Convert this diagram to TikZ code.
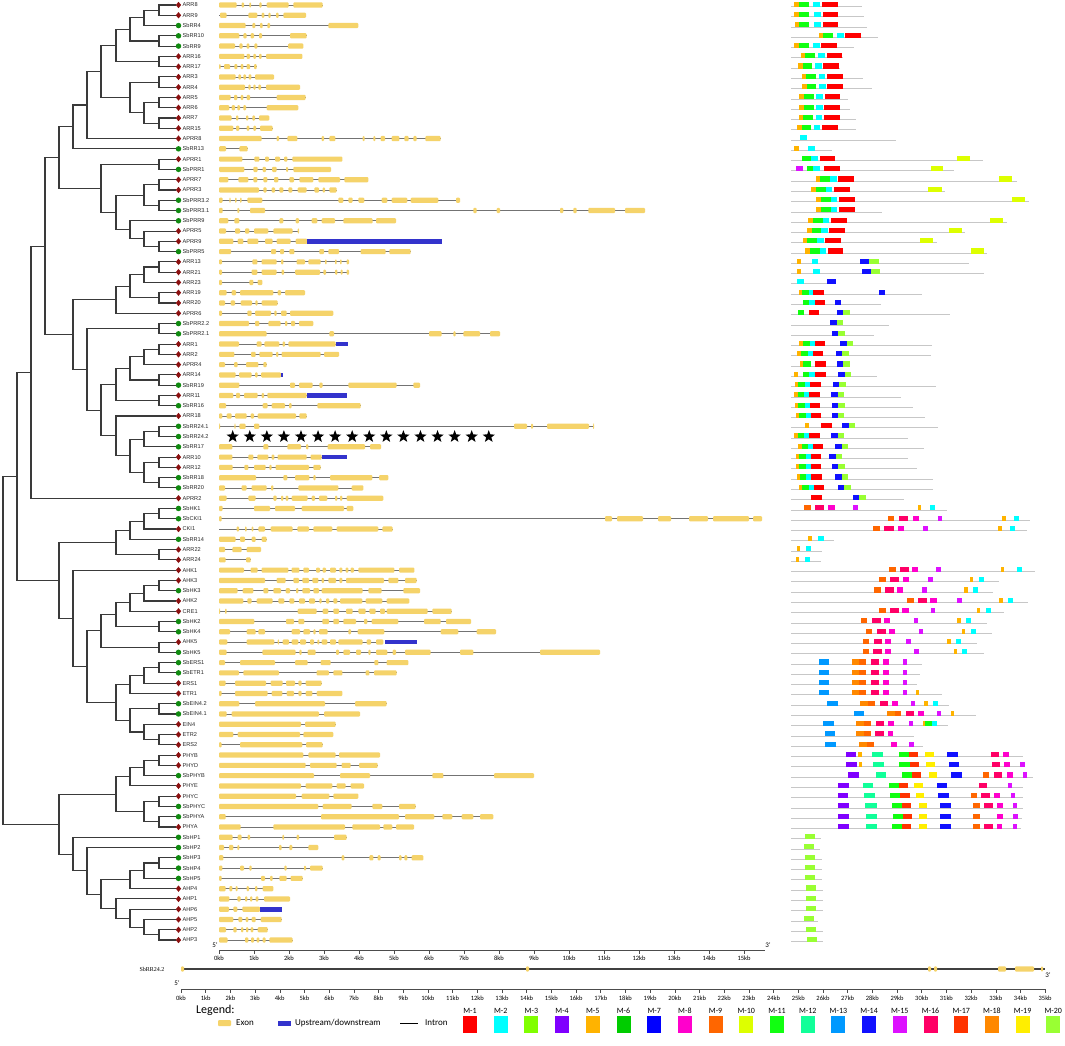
\documentclass[tikz,border=0pt]{standalone}
\usepackage{fontspec}
\setmainfont{Liberation Sans}
\newfontfamily\carl{Carlito}
\newfontfamily\tms{Liberation Serif}
\usetikzlibrary{calc,shapes.geometric}
\definecolor{exonc}{HTML}{F5D36A}
\definecolor{treec}{HTML}{3A3A3A}
\definecolor{utrc}{HTML}{3333CC}
\definecolor{arac}{HTML}{8B1010}
\definecolor{sbc}{HTML}{108A10}
\definecolor{M1}{HTML}{FF0000}
\definecolor{M2}{HTML}{00FFFF}
\definecolor{M3}{HTML}{80FF00}
\definecolor{M4}{HTML}{8000FF}
\definecolor{M5}{HTML}{FFB300}
\definecolor{M6}{HTML}{00CC00}
\definecolor{M7}{HTML}{0000FF}
\definecolor{M8}{HTML}{FF00CC}
\definecolor{M9}{HTML}{FF6600}
\definecolor{M10}{HTML}{DDFF00}
\definecolor{M11}{HTML}{11FF11}
\definecolor{M12}{HTML}{11FF99}
\definecolor{M13}{HTML}{0099FF}
\definecolor{M14}{HTML}{1111FF}
\definecolor{M15}{HTML}{DD11FF}
\definecolor{M16}{HTML}{FF0066}
\definecolor{M17}{HTML}{FF3300}
\definecolor{M18}{HTML}{FF8800}
\definecolor{M19}{HTML}{FFEE00}
\definecolor{M20}{HTML}{99FF33}
\tikzset{
  tree/.style={draw=treec,line width=1.1pt},
  intron/.style={draw=black!55,line width=0.8pt},
  exon/.style={fill=exonc,rounded corners=1pt},
  utr/.style={fill=utrc},
  mline/.style={draw=black!22,line width=0.9pt},
  lab/.style={anchor=west,inner sep=0pt,font=\fontsize{5.6}{6}\selectfont,text=black!85},
  amark/.style={diamond,fill=arac,inner sep=0pt,minimum width=5.5pt,minimum height=6.5pt},
  smark/.style={circle,fill=sbc,inner sep=0pt,minimum size=5.5pt},
  axlab/.style={inner sep=0pt,font=\carl\fontsize{6.5}{7}\selectfont},
  leglab/.style={anchor=west,inner sep=0pt,font=\carl\fontsize{9}{10}\selectfont},
  mlab/.style={inner sep=0pt,font=\carl\fontsize{8}{9}\selectfont},
  starmk/.style={star,star points=5,star point ratio=2.4,fill=black,inner sep=0pt,minimum size=13pt}
}
\newcommand\jn[4]{%
  \path let \p1=(#3), \p2=(#4) in coordinate (#1) at (#2pt,{0.5*(\y1+\y2)});
  \draw[tree] (#3) -| (#1) |- (#4);
}
\newcommand\gn[3]{%
  \pgfmathsetmacro\yy{-5-(#1-1)*10.275}
  \draw[intron] (219,\yy) -- ({#2/3},\yy);
  \foreach \xa/\xb in {#3}{\fill[exon] ({\xa/3},\yy-2.6) rectangle ({\xb/3},\yy+2.6);}
}
\newcommand\gb[3]{%
  \pgfmathsetmacro\yy{-5-(#1-1)*10.275}
  \fill[utr] ({#2/3},\yy-2.3) rectangle ({#3/3},\yy+2.3);
}
\newcommand\mt[3]{%
  \pgfmathsetmacro\yy{-5-(#1-1)*10.275}
  \draw[mline] (791,\yy-1.5) -- ({780+#2/3},\yy-1.5);
  \foreach \xa/\xb/\xc in {#3}{\fill[\xc] ({780+\xa/3},\yy-1.9) rectangle ({780+\xb/3},\yy+3.2);}
}
\begin{document}
\begin{tikzpicture}[x=1pt,y=1pt]
\useasboundingbox (0,0) rectangle (1065,-1046);
\fill[white] (0,0) rectangle (1065,-1046);
% ---------- leaves ----------
\foreach \i/\n/\kind in {1/ARR8/a,2/ARR9/a,3/SbRR4/s,4/SbRR10/s,5/SbRR9/s,6/ARR16/a,7/ARR17/a,8/ARR3/a,9/ARR4/a,10/ARR5/a,11/ARR6/a,12/ARR7/a,13/ARR15/a,14/APRR8/a,15/SbRR13/s,16/APRR1/a,17/SbPRR1/s,18/APRR7/a,19/APRR3/a,20/SbPRR3.2/s,21/SbPRR3.1/s,22/SbPRR9/s,23/APRR5/a,24/APRR9/a,25/SbPRR5/s,26/ARR13/a,27/ARR21/a,28/ARR23/a,29/ARR19/a,30/ARR20/a,31/APRR6/a,32/SbPRR2.2/s,33/SbPRR2.1/s,34/ARR1/a,35/ARR2/a,36/APRR4/a,37/ARR14/a,38/SbRR19/s,39/ARR11/a,40/SbRR16/s,41/ARR18/a,42/SbRR24.1/s,43/SbRR24.2/s,44/SbRR17/s,45/ARR10/a,46/ARR12/a,47/SbRR18/s,48/SbRR20/s,49/APRR2/a,50/SbHK1/s,51/SbCKI1/s,52/CKI1/a,53/SbRR14/s,54/ARR22/a,55/ARR24/a,56/AHK1/a,57/AHK3/a,58/SbHK3/s,59/AHK2/a,60/CRE1/a,61/SbHK2/s,62/SbHK4/s,63/AHK5/a,64/SbHK5/s,65/SbERS1/s,66/SbETR1/s,67/ERS1/a,68/ETR1/a,69/SbEIN4.2/s,70/SbEIN4.1/s,71/EIN4/a,72/ETR2/a,73/ERS2/a,74/PHYB/a,75/PHYD/a,76/SbPHYB/s,77/PHYE/a,78/PHYC/a,79/SbPHYC/s,80/SbPHYA/s,81/PHYA/a,82/SbHP1/s,83/SbHP2/s,84/SbHP3/s,85/SbHP4/s,86/SbHP5/s,87/AHP4/a,88/AHP1/a,89/AHP6/a,90/AHP5/a,91/AHP2/a,92/AHP3/a}{
  \pgfmathsetmacro\yy{-5-(\i-1)*10.275}
  \coordinate (L\i) at (176,\yy);
  \node[\kind mark] (mk\i) at (178.5,\yy) {};
  \node[lab] (lb\i) at (182.5,\yy) {\n};
}
% ---------- tree ----------
\jn{n1}{159}{L1}{L2}\jn{n2}{144}{n1}{L3}\jn{n3}{159}{L4}{L5}\jn{n4}{130}{n2}{n3}
\jn{n5}{159}{L6}{L7}\jn{n6}{116}{n4}{n5}
\jn{n7}{159}{L8}{L9}\jn{n8}{159}{L10}{L11}\jn{n9}{159}{L12}{L13}\jn{n10}{144}{n8}{n9}
\jn{n11}{130}{n7}{n10}\jn{n12}{101}{n6}{n11}\jn{n13}{87}{n12}{L14}\jn{n14}{73}{n13}{L15}
\jn{p1}{159}{L16}{L17}\jn{p2}{159}{L18}{L19}\jn{p3}{159}{L20}{L21}\jn{p4}{144}{p2}{p3}
\jn{p5}{159}{L24}{L25}\jn{p6}{144}{L23}{p5}\jn{p7}{130}{L22}{p6}\jn{p8}{116}{p4}{p7}
\jn{p9}{101}{p1}{p8}\jn{n15}{59}{n14}{p9}
\jn{q1}{159}{L26}{L27}\jn{q2}{144}{q1}{L28}\jn{q3}{159}{L29}{L30}\jn{q4}{130}{q2}{q3}\jn{q5}{116}{q4}{L31}
\jn{r1}{159}{L32}{L33}
\jn{r2}{159}{L34}{L35}\jn{r3}{144}{r2}{L36}\jn{r4}{159}{L37}{L38}\jn{r5}{130}{r3}{r4}
\jn{r6}{159}{L39}{L40}\jn{r7}{116}{r5}{r6}
\jn{r8}{159}{L42}{L43}\jn{r9}{144}{r8}{L44}\jn{r10}{159}{L45}{L46}\jn{r11}{159}{L47}{L48}
\jn{r12}{144}{r10}{r11}\jn{r13}{130}{r9}{r12}\jn{r14}{116}{L41}{r13}\jn{r15}{101}{r7}{r14}
\jn{r16}{87}{r1}{r15}\jn{r17}{73}{q5}{r16}\jn{r18}{45}{n15}{r17}\jn{r19}{31}{r18}{L49}
\jn{s1}{159}{L50}{L51}\jn{s2}{144}{s1}{L52}\jn{s3}{130}{s2}{L53}\jn{s4}{159}{L54}{L55}\jn{s5}{116}{s3}{s4}
\jn{h1}{159}{L57}{L58}\jn{h2}{144}{h1}{L59}\jn{h3}{130}{h2}{L60}\jn{h4}{159}{L61}{L62}\jn{h5}{116}{h3}{h4}
\jn{h6}{159}{L63}{L64}\jn{h7}{101}{h5}{h6}
\jn{e1}{159}{L65}{L66}\jn{e2}{144}{e1}{L67}\jn{e3}{130}{e2}{L68}\jn{e4}{159}{L69}{L70}
\jn{e5}{159}{L72}{L73}\jn{e6}{144}{L71}{e5}\jn{e7}{130}{e4}{e6}\jn{e8}{116}{e3}{e7}
\jn{h8}{87}{h7}{e8}\jn{h9}{73}{L56}{h8}\jn{s6}{59}{s5}{h9}\jn{t1}{17}{r19}{s6}
\jn{f1}{159}{L74}{L75}\jn{f2}{144}{f1}{L76}\jn{f3}{130}{f2}{L77}\jn{f4}{159}{L78}{L79}
\jn{f5}{159}{L80}{L81}\jn{f6}{144}{f4}{f5}\jn{f7}{116}{f3}{f6}
\jn{a1}{159}{L84}{L85}\jn{a2}{144}{a1}{L86}\jn{a3}{130}{a2}{L87}
\jn{a4}{159}{L91}{L92}\jn{a5}{144}{L90}{a4}\jn{a6}{130}{L89}{a5}\jn{a7}{116}{L88}{a6}
\jn{a8}{101}{a3}{a7}\jn{a9}{87}{L83}{a8}\jn{a10}{73}{L82}{a9}\jn{f8}{59}{f7}{a10}
\jn{root}{3}{t1}{f8}
% ---------- gene structures ----------
\gn{1}{968}{657/710,725/732,748/753,778/785,800/866,880/968}
\gn{2}{918}{660/680,745/772,785/793,805/812,828/836,850/918}
\gn{3}{1075}{657/737,757/766,780/788,802/810,985/1075}
\gn{4}{920}{657/718,730/740,752/762,777/786,870/920}
\gn{5}{910}{657/705,718/728,740/748,763/772,864/910}
\gn{6}{907}{657/733,740/750,760/768,777/785,798/907}
\gn{7}{770}{657/662,672/690,703/712,722/730,740/750,762/770}
\gn{8}{822}{657/707,715/723,730/738,746/754,765/822}
\gn{9}{900}{657/735,745/752,760/767,775/783,798/900}
\gn{10}{917}{657/692,702/712,722/730,740/750,830/917}
\gn{11}{895}{657/688,695/705,712/720,730/738,800/895}
\gn{12}{808}{657/695,708/715,738/745,757/765,777/808}
\gn{13}{818}{657/700,708/718,740/748,760/768,780/818}
\gn{14}{1322}{657/785,830/837,862/892,965/972,988/1006,1088/1094,1120/1126,1142/1155,1175/1198,1213/1226,1240/1250,1276/1322}
\gn{15}{743}{657/678,718/743}
\gn{16}{1027}{657/727,763/778,795/807,825/840,852/862,877/1027}
\gn{17}{993}{657/733,760/773,788/798,816/830,858/864,880/993}
\gn{18}{1105}{657/685,715/745,760/772,790/802,822/835,868/882,898/940,955/1020,1033/1105}
\gn{19}{1010}{657/777,790/800,815/825,838/850,865/877,893/920,943/957,968/975,988/1010}
\gn{20}{1380}{657/668,688/692,705/710,720/725,742/787,1015/1030,1045/1058,1075/1093,1145/1162,1175/1222,1232/1315,1368/1380}
\gn{21}{1935}{657/668,712/718,750/795,1420/1430,1490/1500,1680/1690,1720/1730,1765/1845,1875/1935}
\gn{22}{1188}{657/685,703/718,838/850,887/897,935/952,965/1005,1030/1118,1128/1188}
\gn{23}{897}{657/678,705/720,735/748,762/805,820/878,893/897}
\gn{24}{922}{657/700,713/730,742/775,795/818,830/872,887/922}\gb{24}{922}{1325}
\gn{25}{1232}{657/693,813/828,840/852,868/883,958/972,985/1017,1082/1157,1168/1232}
\gn{26}{1047}{657/666,757/772,785/830,843/850,890/915,925/962,975/980,1005/1010,1020/1025,1040/1047}
\gn{27}{1047}{657/666,755/772,785/830,845/852,885/960,970/978,1005/1012,1022/1028,1040/1047}
\gn{28}{787}{657/666,748/760,773/787}
\gn{29}{915}{657/680,695/708,720/820,833/843,855/915}
\gn{30}{833}{657/675,692/705,722/756,766/773,785/833}
\gn{31}{1000}{657/666,742/755,765/813,823/830,843/860,870/1000}
\gn{32}{940}{657/747,765/778,805/842,855/862,873/885,897/940}
\gn{33}{1500}{657/800,988/1002,1287/1325,1360/1367,1390/1440,1470/1500}
\gn{34}{1007}{657/717,770/785,793/838,848/855,865/1007}\gb{34}{1007}{1043}
\gn{35}{1017}{657/703,753/767,778/818,828/835,845/962,972/1017}
\gn{36}{800}{657/675,702/713,738/775,790/800}
\gn{37}{843}{657/707,717/755,765/773,783/843}\gb{37}{843}{848}
\gn{38}{1260}{657/718,870/885,897/938,958/968,1045/1190,1240/1260}
\gn{39}{920}{657/700,708/720,732/773,785/792,802/920}\gb{39}{920}{1042}
\gn{40}{1082}{657/678,788/803,815/855,867/875,952/1082}
\gn{41}{920}{657/667,680/695,705/740,752/762,773/888,898/920}
\gn{42}{1782}{657/660,703/707,718/737,762/778,1542/1581,1593/1599,1641/1767,1779/1782}
\gn{44}{1143}{657/697,790/805,862/903,918/925,983/1095,1110/1143}
\gn{45}{965}{657/697,745/760,772/805,815/823,833/920,932/965}\gb{45}{965}{1042}
\gn{46}{962}{657/698,733/745,762/797,808/815,827/927,940/962}
\gn{47}{1165}{657/768,850/862,885/928,940/947,990/1117,1137/1165}
\gn{48}{1090}{657/675,725/740,755/800,813/820,895/1015,1055/1090}
\gn{49}{1150}{657/680,745/767,820/830,843/850,857/865,875/923,935/945,957/982,1005/1012,1020/1027,1040/1150}
\gn{50}{1060}{657/668,762/810,825/885,905/1032,1040/1060}
\gn{51}{2286}{657/665,1815/1836,1851/1929,1974/2013,2067/2124,2139/2247,2259/2286}
\gn{52}{1178}{710/717,735/740,755/760,775/795,812/878,892/927,940/997,1010/1135,1147/1178}
\gn{53}{800}{657/707,720/735,755/767,785/800}
\gn{54}{783}{657/675,697/725,740/783}
\gn{55}{752}{657/677,738/752}
\gn{56}{1243}{657/732,752/773,785/865,875/898,910/927,948/960,968/978,990/1008,1018/1027,1037/1045,1052/1062,1075/1183,1197/1243}
\gn{57}{1250}{657/795,830/857,880/897,907/927,937/955,965/972,985/1008,1018/1027,1038/1152,1165/1195,1215/1250}
\gn{58}{1260}{657/713,728/760,790/805,820/843,857/870,888/895,907/930,940/957,965/1088,1105/1145,1210/1260}
\gn{59}{1228}{657/730,742/755,770/818,835/853,868/883,897/915,927/945,958/965,978/988,1000/1012,1020/1087,1097/1147,1160/1228}
\gn{60}{1355}{657/660,675/680,893/950,968/985,1000/1017,1038/1058,1075/1097,1108/1127,1140/1155,1160/1283,1297/1355}
\gn{61}{1413}{657/763,858/882,895/913,967/987,1000/1017,1030/1068,1092/1102,1115/1195,1272/1322,1338/1413}
\gn{62}{1488}{657/690,740/767,775/795,875/900,910/930,940/947,957/983,1045/1053,1073/1153,1322/1375,1430/1488}
\gn{63}{1150}{657/682,740/823,833/837,848/867,875/895,900/918,930/942,952/958,965/982,990/1008,1015/1088,1100/1113,1128/1150}\gb{63}{1155}{1252}
\gn{64}{1800}{657/680,787/887,898/905,923/947,1008/1017,1030/1050,1068/1083,1105/1112,1128/1162,1178/1188,1215/1292,1380/1420,1620/1800}
\gn{65}{1225}{657/675,720/825,885/923,962/992,1123/1135,1160/1225}
\gn{66}{1190}{657/717,730/837,950/987,1000/1027,1097/1108,1122/1190}
\gn{67}{965}{657/677,705/798,812/848,858/885,895/905,917/965}
\gn{68}{1027}{657/665,705/803,815/847,860/882,895/905,917/937,950/1027}
\gn{69}{1160}{657/718,765/975,1065/1160}
\gn{70}{1080}{657/680,695/957,972/1080}
\gn{71}{1007}{657/903,915/1007}
\gn{72}{1000}{657/700,713/900,910/1000}
\gn{73}{968}{657/665,720/907,918/968}
\gn{74}{1140}{657/910,925/1007,1017/1140}
\gn{75}{1133}{657/917,930/1010,1025/1052,1077/1133}
\gn{76}{1602}{657/942,1020/1110,1297/1330,1482/1602}
\gn{77}{1092}{657/903,917/997,1010/1037,1052/1092}
\gn{78}{1075}{657/888,905/988,1000/1075}
\gn{79}{1247}{657/955,968/1055,1117/1147,1197/1247}
\gn{80}{1480}{657/677,963/1197,1215/1303,1327/1357,1385/1420,1440/1480}
\gn{81}{1242}{657/722,820/1035,1057/1140,1150/1177,1188/1242}
\gn{82}{1040}{657/698,713/725,743/750,847/852,890/897,1002/1040}
\gn{83}{955}{657/672,687/700,712/718,837/845,868/877,925/955}
\gn{84}{1270}{657/670,1025/1033,1108/1120,1133/1142,1197/1205,1213/1222,1235/1270}
\gn{85}{968}{657/667,720/732,748/755,853/860,912/918,930/968}
\gn{86}{908}{657/665,783/795,810/818,838/860,872/908}
\gn{87}{820}{657/677,688/697,707/713,740/747,765/772,788/820}
\gn{88}{870}{657/688,712/722,735/742,750/757,767/775,792/870}
\gn{89}{780}{657/687,700/712,727/780}\gb{89}{780}{845}
\gn{90}{845}{657/700,715/727,737/745,755/767,782/845}
\gn{91}{803}{657/678,700/710,723/730,738/745,752/760,773/803}
\gn{92}{878}{657/683,735/745,753/762,770/778,788/797,808/878}
% stars for SbRR24.2
\foreach \k in {0,...,15}{\node[starmk] (st\k) at ({232.7+\k*17.07},-436.6) {};}
% ---------- motifs ----------
\mt{1}{245}{42/57/M5,57/86/M11,100/121/M2,126/173/M1}
\mt{2}{252}{42/57/M5,57/86/M11,102/122/M2,128/175/M1}
\mt{3}{262}{45/57/M5,57/86/M11,103/122/M2,128/175/M1}
\mt{4}{295}{117/130/M5,130/159/M11,171/191/M2,196/243/M1}
\mt{5}{223}{42/57/M5,57/86/M11,99/120/M2,124/171/M1}
\mt{6}{190}{62/75/M5,75/104/M11,115/135/M2,140/187/M1}
\mt{7}{180}{53/68/M5,68/96/M11,104/125/M2,130/178/M1}
\mt{8}{250}{65/78/M5,78/107/M11,116/136/M2,141/188/M1}
\mt{9}{275}{67/80/M5,80/109/M11,117/137/M2,142/189/M1}
\mt{10}{205}{58/72/M5,72/101/M11,108/128/M2,134/181/M1}
\mt{11}{210}{58/72/M5,72/101/M11,108/128/M2,133/180/M1}
\mt{12}{227}{56/70/M5,70/99/M11,107/127/M2,132/179/M1}
\mt{13}{227}{52/66/M5,66/94/M11,101/121/M2,127/174/M1}
\mt{14}{348}{61/80/M2}
\mt{15}{155}{43/58/M5,85/105/M2}
\mt{16}{610}{67/92/M11,92/113/M2,119/166/M1,530/569/M10}
\mt{17}{523}{48/68/M15,80/100/M11,100/120/M2,133/180/M1,452/490/M10}
\mt{18}{712}{107/120/M5,120/150/M11,150/170/M2,175/222/M1,657/695/M10}
\mt{19}{495}{93/108/M5,108/138/M11,138/157/M2,162/209/M1,445/485/M10}
\mt{20}{748}{108/122/M5,122/152/M11,152/172/M2,177/224/M1,695/735/M10}
\mt{21}{305}{108/122/M5,122/152/M11,152/172/M2,177/224/M1}
\mt{22}{682}{85/100/M5,100/130/M11,130/148/M2,152/200/M1,630/670/M10}
\mt{23}{555}{80/95/M5,95/124/M11,124/143/M2,148/195/M1,508/546/M10}
\mt{24}{470}{68/82/M5,82/112/M11,112/132/M2,136/184/M1,420/460/M10}
\mt{25}{620}{75/90/M5,90/120/M11,120/138/M2,143/190/M1,573/613/M10}
\mt{26}{568}{50/64/M5,95/115/M2,240/268/M14,268/296/M20}
\mt{27}{612}{50/64/M5,99/119/M2,245/272/M14,272/300/M20}
\mt{28}{168}{50/72/M2,140/167/M14}
\mt{29}{425}{58/66/M5,66/86/M11,86/100/M2,100/132/M1,296/315/M14}
\mt{30}{302}{70/88/M11,88/104/M2,104/135/M1,165/183/M14}
\mt{31}{510}{53/73/M11,87/118/M1,172/190/M14,190/210/M20}
\mt{32}{328}{150/170/M14,170/190/M20}
\mt{33}{283}{155/175/M14,175/195/M20}
\mt{34}{455}{58/70/M5,70/90/M11,90/104/M2,104/135/M1,180/200/M14,200/220/M20}
\mt{35}{452}{52/64/M5,64/84/M11,84/98/M2,98/129/M1,168/187/M14,187/207/M20}
\mt{36}{210}{60/70/M5,70/92/M11,106/138/M1,172/190/M14,190/210/M20}
\mt{37}{292}{42/53/M5,70/88/M11,88/105/M2,105/137/M1,175/194/M14,194/214/M20}
\mt{38}{467}{45/55/M5,55/75/M11,75/90/M2,90/122/M1,160/178/M14,178/198/M20}
\mt{39}{363}{43/53/M5,53/73/M11,73/88/M2,88/120/M1,153/173/M14,173/193/M20}
\mt{40}{400}{45/55/M5,55/75/M11,75/90/M2,90/121/M1,155/175/M14,175/195/M20}
\mt{41}{435}{48/58/M5,58/77/M11,77/93/M2,93/123/M1,155/173/M14,173/193/M20}
\mt{42}{473}{76/86/M5,123/156/M1,187/206/M14,206/226/M20}
\mt{43}{383}{43/53/M5,53/73/M11,73/88/M2,88/120/M1,153/173/M14,173/193/M20}
\mt{44}{433}{55/65/M5,65/83/M11,83/98/M2,98/130/M1,166/185/M14,185/205/M20}
\mt{45}{383}{48/58/M5,58/78/M11,78/92/M2,92/123/M1,148/167/M14,167/187/M20}
\mt{46}{410}{48/58/M5,58/78/M11,78/92/M2,92/123/M1,155/175/M14,175/195/M20}
\mt{47}{460}{50/60/M5,60/78/M11,78/93/M2,93/125/M1,165/185/M14,185/205/M20}
\mt{48}{458}{57/67/M5,67/87/M11,87/102/M2,102/133/M1,173/193/M14,193/213/M20}
\mt{49}{372}{93/127/M1,218/238/M14,238/258/M20}
\mt{50}{502}{72/92/M9,105/132/M16,145/165/M8,220/233/M15,413/423/M5,450/465/M2}
\mt{51}{750}{323/343/M9,358/385/M16,398/417/M8,473/487/M15,667/677/M5,702/717/M2}
\mt{52}{742}{280/300/M9,313/341/M16,353/372/M8,430/445/M15,655/665/M5,690/705/M2}
\mt{53}{163}{85/96/M5,115/131/M2}
\mt{54}{125}{50/60/M5,78/93/M2}
\mt{55}{123}{47/58/M5,75/90/M2}
\mt{56}{765}{328/347/M9,360/387/M16,397/415/M8,468/483/M15,663/673/M5,710/725/M2}
\mt{57}{658}{298/318/M9,330/357/M16,368/386/M8,443/458/M15,570/580/M5,597/612/M2}
\mt{58}{640}{283/302/M9,315/342/M16,352/370/M8,427/442/M15,553/563/M5,579/594/M2}
\mt{59}{743}{382/402/M9,413/440/M16,451/470/M8,532/545/M15,658/668/M5,684/700/M2}
\mt{60}{672}{298/318/M9,330/357/M16,367/386/M8,453/466/M15,590/600/M5,617/632/M2}
\mt{61}{622}{243/262/M9,275/302/M16,312/330/M8,402/415/M15,532/542/M5,559/574/M2}
\mt{62}{635}{258/277/M9,290/317/M16,328/346/M8,416/430/M15,546/556/M5,573/588/M2}
\mt{63}{590}{248/267/M9,281/307/M16,316/334/M8,377/392/M15,502/512/M5,528/543/M2}
\mt{64}{612}{248/267/M9,280/306/M16,316/334/M8,403/417/M15,521/531/M5,546/561/M2}
\mt{65}{425}{116/147/M13,215/238/M18,238/258/M9,273/298/M16,310/328/M8,370/382/M15}
\mt{66}{421}{116/147/M13,215/238/M18,238/258/M9,273/298/M16,310/328/M8,370/382/M15}
\mt{67}{410}{116/147/M13,215/238/M18,238/258/M9,273/298/M16,310/328/M8,370/382/M15}
\mt{68}{487}{116/147/M13,215/238/M18,238/258/M9,273/298/M16,310/328/M8,368/380/M15,408/418/M5}
\mt{69}{508}{142/173/M13,240/263/M18,263/284/M9,300/325/M16,337/355/M8,394/405/M15,433/443/M5,460/475/M2}
\mt{70}{587}{222/253/M13,320/345/M18,345/362/M9,378/403/M16,415/433/M8,470/484/M15,513/522/M5}
\mt{71}{503}{130/162/M13,228/253/M18,253/273/M9,287/313/M16,325/343/M8,386/398/M15,428/436/M5,436/457/M11,457/470/M2}
\mt{72}{403}{134/166/M13,228/253/M18,253/273/M9,286/312/M16,323/340/M8}
\mt{73}{428}{136/167/M13,238/262/M18,262/282/M9,333/351/M8,388/401/M15}
\mt{74}{730}{197/228/M4,235/245/M5,276/308/M12,356/387/M11,387/413/M17,436/462/M19,502/535/M14,632/658/M16,670/687/M8}
\mt{75}{735}{199/230/M4,237/247/M5,279/311/M12,358/389/M11,389/416/M17,439/465/M19,506/538/M14,635/661/M16,672/690/M8,720/734/M15}
\mt{76}{760}{205/238/M4,287/318/M12,366/397/M11,397/423/M17,446/472/M19,513/545/M14,609/628/M9,642/667/M16,680/698/M8,729/742/M15}
\mt{77}{728}{175/207/M4,249/280/M12,328/358/M11,358/385/M17,401/428/M19,470/502/M14,597/622/M16,683/697/M15}
\mt{78}{730}{173/205/M4,252/284/M12,331/361/M11,361/389/M17,407/433/M19,474/506/M14,572/590/M9,604/630/M16,642/660/M8,692/705/M15}
\mt{79}{730}{174/206/M4,256/290/M12,335/366/M11,366/393/M17,416/442/M19,481/513/M14,580/599/M9,612/638/M16,650/668/M8,698/712/M15}
\mt{80}{726}{175/208/M4,258/290/M12,338/369/M11,369/396/M17,416/442/M19,481/514/M14,580/599/M9,652/668/M8,700/714/M15}
\mt{81}{724}{175/207/M4,258/290/M12,336/367/M11,367/394/M17,416/442/M19,481/514/M14,580/599/M9,613/638/M16,650/667/M8,698/712/M15}
\mt{82}{122}{76/104/M20}
\mt{83}{120}{72/102/M20}
\mt{84}{125}{75/105/M20}
\mt{85}{127}{75/105/M20}
\mt{86}{127}{75/105/M20}
\mt{87}{130}{78/108/M20}
\mt{88}{130}{78/108/M20}
\mt{89}{130}{78/108/M20}
\mt{90}{115}{71/101/M20}
\mt{91}{130}{78/108/M20}
\mt{92}{130}{81/111/M20}
% ---------- axis 1 ----------
\node[axlab,font=\carl\fontsize{7}{7}\selectfont] (f5a) at (215,-945) {5'};
\node[axlab,font=\carl\fontsize{7}{7}\selectfont] (f3a) at (768,-945) {3'};
\draw[black!70,line width=0.6pt] (219,-950) -- (765,-950);
\foreach \k in {0,...,15}{
  \draw[black!70,line width=0.5pt] ({219+\k*35},-950) -- ({219+\k*35},-953.5);
  \node[axlab] (ka\k) at ({219+\k*35},-958.5) {\k kb};
}
% ---------- SbRR24.2 full ----------
\node[inner sep=0pt,font=\tms\fontsize{6}{6}\selectfont] (sblab) at (152,-969) {SbRR24.2};
\draw[black!75,line width=1.2pt] (181,-969) -- (1045,-969);
\foreach \xa/\xb in {181/184,526/529,928/931,934/937,998/1006,1015/1034,1041/1043}{
  \fill[exon] (\xa,-971.6) rectangle (\xb,-966.4);}
% ---------- axis 2 ----------
\node[axlab,font=\carl\fontsize{7}{7}\selectfont] (f5b) at (177,-983) {5'};
\node[axlab,font=\carl\fontsize{7}{7}\selectfont] (f3b) at (1048,-975) {3'};
\draw[black!70,line width=0.6pt] (181,-989) -- (1045,-989);
\foreach \k in {0,...,35}{
  \draw[black!70,line width=0.5pt] ({181+\k*24.69},-989) -- ({181+\k*24.69},-992.5);
  \node[axlab] (kb\k) at ({181+\k*24.69},-998) {\k kb};
}
% ---------- legend ----------
\node[anchor=west,inner sep=0pt,font=\carl\fontsize{12}{12}\selectfont] (legend) at (196,-1010) {Legend:};
\fill[exon] (218,-1026) rectangle (231,-1020);
\node[leglab] (lex) at (236,-1023) {Exon};
\fill[utr] (278,-1025.5) rectangle (291,-1020.5);
\node[leglab] (lup) at (295,-1023) {Upstream/downstream};
\draw[black,line width=1pt] (400,-1023) -- (418,-1023);
\node[leglab] (lin) at (425,-1023) {Intron};
\foreach \k in {1,...,20}{
  \pgfmathsetmacro\mx{470+(\k-1)*30.7}
  \node[mlab] (ml\k) at (\mx,-1010.5) {M-\k};
  \fill[M\k] (\mx-7,-1016) rectangle (\mx+7,-1033);
}
\end{tikzpicture}
\end{document}
